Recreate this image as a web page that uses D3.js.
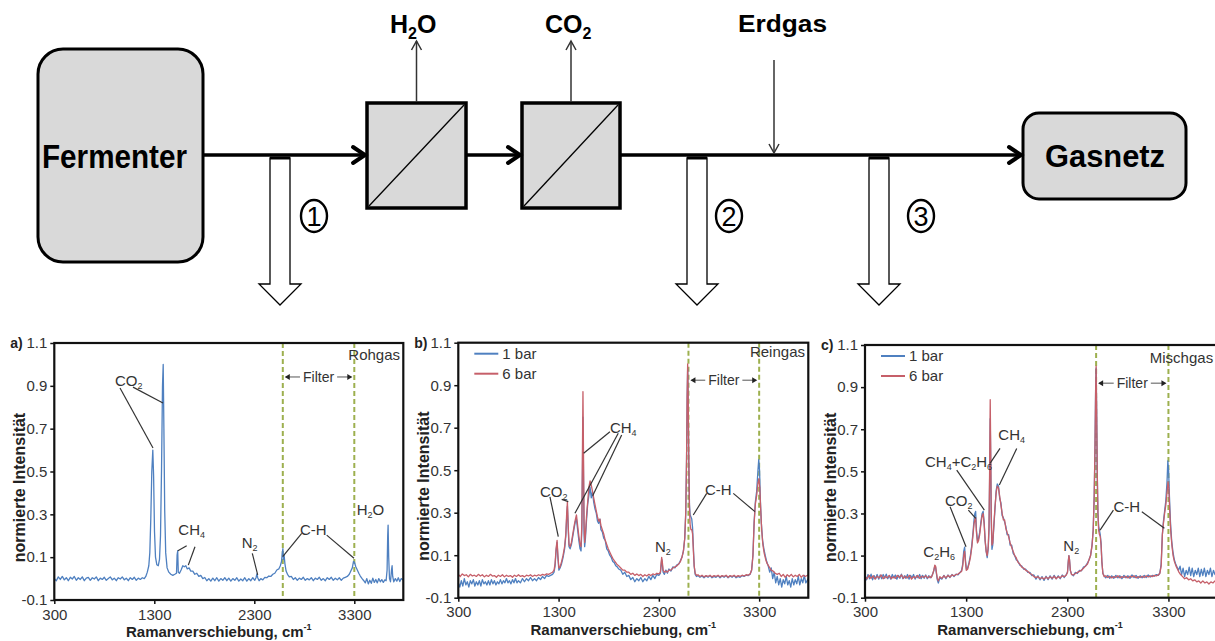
<!DOCTYPE html>
<html>
<head>
<meta charset="utf-8">
<script src="https://cdn.jsdelivr.net/npm/d3@7"></script>
<style>
  body { margin: 0; background: #fff; }
  svg { display: block; font-family: "Liberation Sans", Arial, sans-serif; }
</style>
</head>
<body>
<svg id="chart" width="1215" height="641"></svg>
<script>
// ---- data ----
const xDomain = [300, 3790];
const yDomain = [-0.1, 1.1];
const xTicks = [300, 1300, 2300, 3300];
const yTicks = [-0.1, 0.1, 0.3, 0.5, 0.7, 0.9, 1.1];
const seriesNames = ["1 bar", "6 bar"];
const panelLetters = ["a)", "b)", "c)"];

// [wavenumber cm-1, normalised intensity]
const rohgas = [[300,0.00],[320,-0.01],[340,0.008],[360,-0.004],[380,0.01],[400,-0.006],[420,0.004],[440,-0.01],[460,0.006],[480,-0.002],[500,0.01],[520,-0.008],[540,0.004],[560,-0.004],[580,0.008],[600,-0.01],[620,0.002],[640,0.006],[660,-0.008],[680,0.004],[700,-0.002],[720,0.008],[740,-0.01],[760,0.002],[780,-0.004],[800,0.006],[820,-0.008],[840,0.0],[860,0.008],[880,-0.006],[900,0.002],[920,-0.01],[940,0.004],[960,-0.002],[980,0.008],[1000,-0.006],[1020,0.002],[1040,-0.01],[1060,0.004],[1080,-0.004],[1100,0.006],[1120,-0.008],[1140,0.002],[1160,-0.004],[1180,0.004],[1200,0.0],[1215,0.01],[1230,0.03],[1245,0.06],[1255,0.12],[1265,0.28],[1275,0.5],[1285,0.6],[1293,0.48],[1302,0.22],[1312,0.1],[1325,0.065],[1340,0.06],[1352,0.09],[1362,0.2],[1372,0.5],[1382,0.9],[1389,1.0],[1396,0.7],[1404,0.32],[1414,0.12],[1428,0.05],[1445,0.03],[1465,0.02],[1485,0.015],[1505,0.02],[1522,0.025],[1528,0.11],[1534,0.13],[1540,0.03],[1552,0.025],[1568,0.04],[1585,0.06],[1600,0.055],[1615,0.06],[1630,0.045],[1648,0.05],[1665,0.035],[1685,0.035],[1705,0.02],[1725,0.025],[1745,0.01],[1765,0.015],[1785,0.0],[1805,0.005],[1825,-0.01],[1845,0.0],[1865,-0.012],[1885,0.002],[1905,-0.01],[1925,0.004],[1945,-0.012],[1965,0.0],[1985,-0.008],[2005,0.004],[2025,-0.01],[2045,0.002],[2065,-0.012],[2085,0.0],[2105,-0.008],[2125,0.004],[2145,-0.012],[2165,-0.002],[2185,-0.01],[2205,0.004],[2225,-0.012],[2245,0.0],[2265,-0.01],[2285,0.004],[2305,-0.008],[2318,0.005],[2326,0.022],[2334,0.004],[2348,-0.01],[2365,0.0],[2385,-0.006],[2405,0.006],[2425,0.004],[2445,0.012],[2465,0.01],[2485,0.02],[2505,0.025],[2525,0.04],[2545,0.045],[2560,0.06],[2572,0.08],[2580,0.12],[2586,0.14],[2592,0.09],[2598,0.11],[2606,0.07],[2618,0.035],[2632,0.02],[2650,0.008],[2670,0.01],[2690,-0.004],[2710,0.004],[2730,-0.008],[2750,0.002],[2770,-0.004],[2790,0.006],[2810,-0.008],[2830,0.0],[2850,-0.006],[2870,0.004],[2890,-0.01],[2910,0.002],[2930,-0.004],[2950,0.006],[2970,-0.008],[2990,0.0],[3010,-0.01],[3030,0.004],[3050,-0.004],[3070,0.006],[3090,-0.008],[3110,0.002],[3130,-0.006],[3150,0.004],[3170,-0.008],[3190,0.002],[3210,0.006],[3230,0.01],[3250,0.02],[3265,0.035],[3280,0.05],[3292,0.08],[3302,0.075],[3315,0.055],[3330,0.04],[3345,0.025],[3360,0.012],[3378,0.0],[3395,-0.01],[3410,-0.02],[3425,0.0],[3440,-0.025],[3455,-0.008],[3470,-0.022],[3485,0.002],[3500,-0.018],[3515,-0.004],[3530,-0.02],[3545,0.0],[3560,-0.015],[3575,-0.005],[3590,-0.018],[3605,-0.006],[3618,-0.01],[3628,0.04],[3634,0.2],[3638,0.25],[3644,0.1],[3652,0.0],[3662,-0.015],[3672,0.04],[3678,0.06],[3684,0.01],[3695,-0.015],[3710,0.0],[3725,-0.012],[3740,0.004],[3755,-0.014],[3770,0.0],[3790,-0.008]];

const reingas1bar = [[300,-0.03],[315,-0.05],[330,-0.02],[345,-0.045],[360,-0.01],[375,-0.04],[390,-0.025],[405,-0.05],[420,-0.02],[435,-0.035],[450,-0.015],[465,-0.045],[480,-0.025],[495,-0.04],[510,-0.02],[525,-0.045],[540,-0.015],[555,-0.035],[570,-0.025],[585,-0.04],[600,-0.02],[615,-0.04],[630,-0.015],[645,-0.035],[660,-0.02],[675,-0.04],[690,-0.025],[705,-0.035],[720,-0.015],[735,-0.035],[750,-0.02],[765,-0.03],[780,-0.01],[795,-0.03],[810,-0.02],[825,-0.035],[840,-0.015],[855,-0.03],[870,-0.01],[885,-0.03],[900,-0.02],[920,-0.03],[940,-0.01],[960,-0.025],[980,-0.01],[1000,-0.02],[1020,-0.005],[1040,-0.02],[1060,-0.01],[1080,-0.02],[1100,-0.005],[1120,-0.015],[1140,0.0],[1160,-0.01],[1180,0.005],[1200,0.0],[1220,0.005],[1240,0.01],[1255,0.02],[1265,0.05],[1275,0.12],[1285,0.16],[1293,0.09],[1303,0.03],[1315,0.04],[1330,0.06],[1345,0.09],[1360,0.13],[1372,0.19],[1381,0.28],[1388,0.33],[1395,0.24],[1404,0.14],[1415,0.13],[1428,0.15],[1442,0.19],[1456,0.23],[1468,0.26],[1478,0.27],[1490,0.22],[1502,0.17],[1514,0.13],[1524,0.12],[1532,0.22],[1538,0.5],[1543,0.75],[1548,0.5],[1554,0.2],[1560,0.14],[1568,0.18],[1578,0.26],[1590,0.34],[1602,0.38],[1614,0.42],[1626,0.37],[1638,0.4],[1650,0.35],[1662,0.32],[1675,0.3],[1688,0.26],[1700,0.25],[1712,0.27],[1722,0.22],[1736,0.21],[1750,0.18],[1765,0.17],[1780,0.13],[1795,0.12],[1810,0.1],[1825,0.09],[1840,0.07],[1855,0.065],[1870,0.05],[1885,0.045],[1900,0.035],[1920,0.03],[1940,0.01],[1960,0.02],[1980,0.0],[2000,0.005],[2020,-0.015],[2040,-0.005],[2060,-0.025],[2080,-0.01],[2100,-0.02],[2120,-0.005],[2140,-0.025],[2160,-0.01],[2180,-0.02],[2200,0.0],[2220,-0.015],[2240,0.005],[2260,-0.01],[2280,0.01],[2300,0.005],[2315,0.015],[2322,0.05],[2328,0.08],[2334,0.06],[2342,0.02],[2355,0.01],[2370,0.03],[2385,0.015],[2400,0.035],[2420,0.025],[2440,0.045],[2460,0.04],[2480,0.055],[2500,0.06],[2515,0.075],[2530,0.09],[2545,0.12],[2558,0.18],[2568,0.3],[2576,0.55],[2582,0.85],[2587,0.98],[2592,0.85],[2598,0.55],[2605,0.34],[2612,0.29],[2620,0.28],[2628,0.27],[2636,0.23],[2644,0.14],[2652,0.05],[2662,0.01],[2675,0.0],[2690,0.004],[2710,-0.004],[2730,0.002],[2750,-0.006],[2770,0.002],[2790,-0.004],[2810,0.004],[2830,-0.006],[2850,0.0],[2870,-0.004],[2890,0.004],[2910,-0.006],[2930,0.002],[2950,-0.004],[2970,0.004],[2990,-0.006],[3010,0.002],[3030,-0.004],[3050,0.004],[3070,-0.006],[3090,0.0],[3110,-0.004],[3130,0.004],[3150,0.0],[3170,0.006],[3190,0.004],[3210,0.01],[3225,0.03],[3238,0.1],[3250,0.26],[3262,0.35],[3275,0.4],[3288,0.5],[3296,0.55],[3304,0.5],[3312,0.36],[3322,0.25],[3334,0.17],[3347,0.13],[3360,0.1],[3375,0.07],[3390,0.05],[3405,0.02],[3420,0.04],[3435,-0.01],[3450,0.02],[3465,-0.03],[3480,0.0],[3495,-0.04],[3510,-0.01],[3525,-0.05],[3540,-0.015],[3555,-0.035],[3570,0.0],[3585,-0.04],[3600,-0.02],[3615,-0.05],[3630,-0.01],[3645,-0.04],[3660,-0.015],[3675,-0.035],[3690,0.0],[3705,-0.04],[3720,-0.01],[3735,-0.03],[3750,0.005],[3765,-0.03],[3790,-0.01]];

const reingas6bar = [[300,0.01],[320,0.0],[340,0.012],[360,0.004],[380,0.008],[400,-0.002],[420,0.01],[440,0.002],[460,0.006],[480,0.0],[500,0.01],[520,0.002],[540,0.008],[560,-0.002],[580,0.006],[600,0.0],[620,0.01],[640,0.002],[660,0.004],[680,-0.004],[700,0.006],[720,0.0],[740,0.008],[760,-0.002],[780,0.006],[800,0.0],[820,0.004],[840,-0.004],[860,0.006],[880,0.0],[900,0.008],[920,0.0],[940,0.004],[960,-0.002],[980,0.006],[1000,0.002],[1020,0.008],[1040,0.0],[1060,0.006],[1080,0.002],[1100,0.008],[1120,0.004],[1140,0.01],[1160,0.006],[1180,0.012],[1200,0.01],[1220,0.015],[1240,0.02],[1255,0.03],[1265,0.06],[1275,0.13],[1285,0.17],[1293,0.1],[1303,0.04],[1315,0.045],[1330,0.07],[1345,0.1],[1360,0.14],[1372,0.2],[1381,0.3],[1388,0.35],[1395,0.25],[1404,0.15],[1415,0.14],[1428,0.16],[1442,0.2],[1456,0.24],[1468,0.27],[1478,0.29],[1490,0.24],[1502,0.19],[1514,0.15],[1524,0.14],[1532,0.25],[1538,0.6],[1543,0.87],[1548,0.6],[1554,0.25],[1560,0.16],[1568,0.2],[1578,0.28],[1590,0.35],[1602,0.42],[1614,0.45],[1626,0.43],[1638,0.4],[1650,0.37],[1662,0.34],[1675,0.31],[1688,0.28],[1700,0.26],[1712,0.27],[1722,0.24],[1736,0.22],[1750,0.2],[1765,0.17],[1780,0.15],[1795,0.13],[1810,0.115],[1825,0.1],[1840,0.085],[1855,0.075],[1870,0.065],[1885,0.055],[1900,0.05],[1920,0.04],[1940,0.03],[1960,0.03],[1980,0.02],[2000,0.02],[2020,0.01],[2040,0.015],[2060,0.005],[2080,0.012],[2100,0.004],[2120,0.01],[2140,0.0],[2160,0.008],[2180,0.002],[2200,0.01],[2220,0.004],[2240,0.012],[2260,0.008],[2280,0.015],[2300,0.012],[2315,0.02],[2322,0.06],[2328,0.09],[2334,0.07],[2342,0.03],[2355,0.02],[2370,0.025],[2385,0.02],[2400,0.03],[2420,0.03],[2440,0.04],[2460,0.045],[2480,0.05],[2500,0.06],[2515,0.07],[2530,0.09],[2545,0.12],[2558,0.18],[2568,0.3],[2576,0.55],[2582,0.85],[2587,1.0],[2592,0.85],[2598,0.55],[2605,0.32],[2612,0.24],[2620,0.22],[2628,0.22],[2636,0.2],[2644,0.12],[2652,0.05],[2662,0.015],[2675,0.005],[2690,0.008],[2710,0.0],[2730,0.006],[2750,-0.002],[2770,0.004],[2790,0.0],[2810,0.006],[2830,-0.002],[2850,0.004],[2870,0.0],[2890,0.006],[2910,-0.002],[2930,0.004],[2950,0.0],[2970,0.006],[2990,-0.004],[3010,0.004],[3030,0.0],[3050,0.006],[3070,-0.002],[3090,0.004],[3110,0.0],[3130,0.006],[3150,0.002],[3170,0.008],[3190,0.006],[3210,0.012],[3225,0.03],[3238,0.1],[3250,0.25],[3262,0.34],[3275,0.38],[3288,0.44],[3298,0.46],[3306,0.42],[3315,0.32],[3325,0.22],[3337,0.15],[3350,0.11],[3365,0.08],[3380,0.06],[3400,0.045],[3420,0.03],[3440,0.025],[3460,0.015],[3480,0.01],[3500,0.015],[3520,0.0],[3540,0.01],[3560,-0.004],[3580,0.008],[3600,0.0],[3620,0.01],[3640,-0.002],[3660,0.006],[3680,0.0],[3700,0.01],[3720,-0.004],[3740,0.006],[3760,0.0],[3790,0.008]];

const mischgas1bar = [[300,0.005],[315,-0.015],[330,0.01],[345,-0.01],[360,0.012],[375,-0.015],[390,0.005],[405,-0.01],[420,0.01],[435,-0.012],[450,0.008],[465,-0.01],[480,0.01],[495,-0.008],[510,0.012],[525,-0.01],[540,0.004],[555,-0.012],[570,0.01],[585,-0.006],[600,0.008],[615,-0.012],[630,0.006],[645,-0.008],[660,0.012],[675,-0.01],[690,0.004],[705,-0.008],[720,0.01],[735,-0.012],[750,0.006],[765,-0.006],[780,0.01],[795,-0.012],[810,0.004],[825,-0.006],[840,0.01],[855,-0.01],[870,0.006],[885,-0.008],[900,0.008],[915,-0.01],[930,0.004],[945,-0.006],[958,0.0],[968,0.012],[980,0.028],[990,0.05],[998,0.045],[1006,0.015],[1015,-0.015],[1025,-0.03],[1040,-0.005],[1060,-0.012],[1080,0.006],[1100,-0.01],[1120,0.008],[1140,-0.004],[1160,0.01],[1180,0.0],[1200,0.012],[1220,0.008],[1240,0.02],[1255,0.03],[1266,0.06],[1276,0.12],[1285,0.14],[1293,0.08],[1302,0.035],[1314,0.04],[1328,0.065],[1342,0.1],[1356,0.15],[1368,0.21],[1378,0.27],[1386,0.3],[1394,0.31],[1402,0.22],[1412,0.17],[1422,0.18],[1434,0.21],[1446,0.26],[1458,0.3],[1468,0.31],[1478,0.26],[1488,0.17],[1498,0.12],[1508,0.09],[1518,0.13],[1526,0.22],[1532,0.45],[1538,0.75],[1543,0.55],[1548,0.28],[1555,0.13],[1563,0.15],[1573,0.23],[1585,0.32],[1597,0.41],[1608,0.44],[1620,0.43],[1632,0.37],[1644,0.35],[1656,0.29],[1668,0.28],[1680,0.26],[1692,0.24],[1705,0.2],[1720,0.2],[1735,0.15],[1750,0.15],[1765,0.11],[1780,0.1],[1795,0.08],[1810,0.075],[1830,0.055],[1850,0.05],[1870,0.035],[1890,0.035],[1910,0.02],[1930,0.02],[1950,0.005],[1970,0.008],[1990,-0.012],[2010,0.004],[2030,-0.015],[2050,0.0],[2070,-0.018],[2090,0.002],[2110,-0.014],[2130,0.004],[2150,-0.012],[2170,0.006],[2190,-0.01],[2210,0.004],[2230,-0.01],[2250,0.008],[2270,-0.004],[2290,0.01],[2302,0.022],[2310,0.075],[2316,0.1],[2322,0.08],[2330,0.03],[2342,0.012],[2360,0.004],[2380,0.02],[2400,0.015],[2420,0.03],[2440,0.028],[2460,0.045],[2480,0.05],[2500,0.065],[2515,0.08],[2530,0.1],[2545,0.15],[2556,0.22],[2566,0.38],[2574,0.62],[2580,0.88],[2585,0.99],[2590,0.8],[2596,0.5],[2603,0.3],[2610,0.24],[2618,0.22],[2626,0.2],[2634,0.16],[2642,0.07],[2652,0.015],[2665,0.004],[2680,-0.006],[2700,0.006],[2720,-0.008],[2740,0.004],[2760,-0.008],[2780,0.006],[2800,-0.006],[2820,0.004],[2840,-0.01],[2860,0.006],[2880,-0.006],[2900,0.004],[2920,-0.008],[2940,0.008],[2960,-0.004],[2980,0.006],[3000,-0.008],[3020,0.004],[3040,-0.006],[3060,0.006],[3080,-0.004],[3100,0.008],[3120,-0.002],[3140,0.006],[3160,0.002],[3180,0.01],[3200,0.006],[3215,0.018],[3228,0.06],[3240,0.2],[3250,0.26],[3262,0.31],[3274,0.36],[3286,0.45],[3294,0.55],[3302,0.5],[3310,0.38],[3320,0.26],[3332,0.17],[3344,0.12],[3358,0.08],[3372,0.06],[3386,0.045],[3400,0.03],[3415,0.05],[3430,0.01],[3445,0.04],[3460,0.0],[3475,0.03],[3490,0.01],[3505,0.045],[3520,0.005],[3535,0.04],[3550,0.0],[3565,0.03],[3580,0.01],[3595,0.04],[3610,0.0],[3625,0.035],[3640,0.005],[3655,0.04],[3670,0.0],[3685,0.03],[3700,0.01],[3715,0.04],[3730,0.0],[3745,0.03],[3760,0.01],[3790,0.025]];

const mischgas6bar = [[300,0.0],[320,-0.01],[340,0.006],[360,-0.008],[380,0.004],[400,-0.012],[420,0.002],[440,-0.006],[460,0.008],[480,-0.01],[500,0.002],[520,-0.006],[540,0.006],[560,-0.01],[580,0.0],[600,-0.008],[620,0.006],[640,-0.004],[660,0.008],[680,-0.008],[700,0.002],[720,-0.006],[740,0.006],[760,-0.012],[780,0.0],[800,-0.006],[820,0.006],[840,-0.008],[860,0.002],[880,-0.004],[900,0.004],[920,-0.006],[940,0.002],[955,-0.004],[968,0.01],[980,0.03],[990,0.055],[998,0.05],[1006,0.02],[1015,-0.01],[1025,-0.02],[1040,0.0],[1060,-0.008],[1080,0.004],[1100,-0.006],[1120,0.006],[1140,-0.002],[1160,0.008],[1180,0.004],[1200,0.01],[1220,0.012],[1240,0.02],[1255,0.025],[1266,0.05],[1276,0.1],[1285,0.12],[1293,0.07],[1302,0.03],[1314,0.035],[1328,0.06],[1342,0.09],[1356,0.14],[1368,0.2],[1378,0.25],[1386,0.27],[1394,0.28],[1402,0.21],[1412,0.16],[1422,0.17],[1434,0.2],[1446,0.25],[1458,0.29],[1468,0.3],[1478,0.25],[1488,0.17],[1498,0.12],[1508,0.1],[1518,0.14],[1526,0.24],[1532,0.5],[1538,0.84],[1543,0.6],[1548,0.3],[1555,0.15],[1563,0.16],[1573,0.24],[1585,0.33],[1597,0.4],[1608,0.43],[1620,0.42],[1632,0.38],[1644,0.34],[1656,0.3],[1668,0.27],[1680,0.27],[1692,0.23],[1705,0.21],[1720,0.19],[1735,0.16],[1750,0.14],[1765,0.12],[1780,0.1],[1795,0.09],[1810,0.07],[1830,0.06],[1850,0.045],[1870,0.04],[1890,0.03],[1910,0.025],[1930,0.015],[1950,0.01],[1970,0.0],[1990,-0.005],[2010,0.0],[2030,-0.01],[2050,-0.004],[2070,-0.012],[2090,-0.002],[2110,-0.01],[2130,0.0],[2150,-0.008],[2170,0.002],[2190,-0.01],[2210,0.0],[2230,-0.006],[2250,0.004],[2270,0.0],[2290,0.008],[2302,0.02],[2310,0.07],[2316,0.1],[2322,0.08],[2330,0.03],[2342,0.01],[2360,0.008],[2380,0.015],[2400,0.02],[2420,0.025],[2440,0.03],[2460,0.04],[2480,0.05],[2500,0.06],[2515,0.08],[2530,0.1],[2545,0.15],[2556,0.22],[2566,0.38],[2574,0.62],[2580,0.88],[2585,1.0],[2590,0.8],[2596,0.5],[2603,0.3],[2610,0.22],[2618,0.2],[2626,0.19],[2634,0.15],[2642,0.07],[2652,0.015],[2665,0.0],[2680,0.004],[2700,-0.004],[2720,0.002],[2740,-0.006],[2760,0.0],[2780,-0.004],[2800,0.004],[2820,-0.006],[2840,0.0],[2860,-0.004],[2880,0.002],[2900,-0.006],[2920,0.002],[2940,-0.002],[2960,0.004],[2980,-0.006],[3000,0.0],[3020,-0.004],[3040,0.002],[3060,-0.004],[3080,0.004],[3100,-0.002],[3120,0.004],[3140,0.0],[3160,0.006],[3180,0.004],[3200,0.008],[3215,0.015],[3228,0.05],[3240,0.2],[3250,0.25],[3262,0.3],[3274,0.34],[3286,0.4],[3296,0.45],[3304,0.42],[3312,0.32],[3322,0.22],[3334,0.15],[3346,0.1],[3360,0.07],[3375,0.05],[3390,0.035],[3405,0.02],[3420,0.01],[3440,0.0],[3460,-0.01],[3480,-0.005],[3500,-0.015],[3520,-0.01],[3540,-0.02],[3560,-0.015],[3580,-0.025],[3600,-0.02],[3620,-0.03],[3640,-0.02],[3660,-0.03],[3680,-0.025],[3700,-0.035],[3720,-0.025],[3740,-0.03],[3760,-0.02],[3790,-0.03]];

// filter window (cm-1) per panel
const filterA = [2585, 3300];
const filterB = [2595, 3300];
const filterC = [2585, 3300];

// peak labels: text, text position and leader lines in data units
const notesA = [
  {t: "CO2", at: [907, 0.90], lines: [[957, 0.89, 1287, 0.61], [1087, 0.894, 1387, 0.82]]},
  {t: "CH4", at: [1540, 0.203], lines: [[1624, 0.153, 1536, 0.13], [1707, 0.149, 1640, 0.063]]},
  {t: "N2", at: [2174, 0.141], lines: [[2280, 0.118, 2334, 0.017]]},
  {t: "C-H", at: [2757, 0.203], lines: [[2774, 0.211, 2584, 0.102], [3024, 0.203, 3297, 0.095]]},
  {t: "H2O", at: [3324, 0.297], lines: []},
  {t: "Rohgas", at: [3757, 1.02], anchor: "end", lines: []}
];
const notesB = [
  {t: "CO2", at: [1115, 0.375], lines: [[1214, 0.375, 1297, 0.187], [1331, 0.363, 1397, 0.352]]},
  {t: "CH4", at: [1812, 0.674], lines: [[1812, 0.681, 1550, 0.58], [1895, 0.674, 1463, 0.297], [1929, 0.666, 1640, 0.38]]},
  {t: "N2", at: [2261, 0.116], lines: []},
  {t: "C-H", at: [2759, 0.383], lines: [[2777, 0.391, 2643, 0.289], [3042, 0.391, 3258, 0.305]]},
  {t: "Reingas", at: [3757, 1.033], anchor: "end", lines: []}
];
const notesC = [
  {t: "C2H6", at: [877, 0.095], lines: []},
  {t: "CO2", at: [1091, 0.335], lines: [[1141, 0.332, 1299, 0.142], [1322, 0.316, 1395, 0.277]]},
  {t: "CH4+C2H6", at: [893, 0.522], lines: [[1207, 0.506, 1480, 0.316]]},
  {t: "CH4", at: [1618, 0.649], lines: [[1635, 0.609, 1536, 0.538], [1800, 0.609, 1628, 0.435]]},
  {t: "N2", at: [2261, 0.123], lines: []},
  {t: "C-H", at: [2756, 0.308], lines: [[2756, 0.316, 2624, 0.221], [3037, 0.308, 3260, 0.23]]},
  {t: "Mischgas", at: [3742, 1.016], anchor: "end", lines: []}
];
const filterTextY = [0.918, 0.9, 0.895];

// ---- colours ----
const blue = "#4f80c0";
const red = "#c65f69";
const ink = "#333";

const svg = d3.select("#chart");

// writes "CO2" style text with digits as subscripts
function chem(sel, str, subSize, shift) {
  let down = false;
  str.split(/(\d)/).filter(s => s.length).forEach(part => {
    if (/\d/.test(part)) {
      sel.append("tspan").attr("font-size", subSize).attr("dy", down ? 0 : shift).text(part);
      down = true;
    } else {
      sel.append("tspan").attr("dy", down ? -shift : 0).text(part);
      down = false;
    }
  });
  return sel;
}

// ---- process sketch at the top ----
const sketch = svg.append("g");
const lineY = 155;

// vessels
sketch.append("rect").attr("x", 38).attr("y", 49).attr("width", 165).attr("height", 213)
  .attr("rx", 25).attr("fill", "#d9d9d9").attr("stroke", "#000").attr("stroke-width", 3);
sketch.append("text").attr("x", 42).attr("y", 168).attr("font-size", 34).attr("font-weight", "bold")
  .attr("textLength", 145).attr("lengthAdjust", "spacingAndGlyphs").text("Fermenter");

sketch.append("rect").attr("x", 1023).attr("y", 113).attr("width", 163).attr("height", 86)
  .attr("rx", 16).attr("fill", "#d9d9d9").attr("stroke", "#000").attr("stroke-width", 3);
sketch.append("text").attr("x", 1045).attr("y", 167).attr("font-size", 31).attr("font-weight", "bold")
  .attr("textLength", 120).attr("lengthAdjust", "spacingAndGlyphs").text("Gasnetz");

// membrane modules
const modules = [{x0: 367, x1: 466, out: "H2O", tx: 390}, {x0: 522, x1: 620, out: "CO2", tx: 545}];
modules.forEach(m => {
  sketch.append("rect").attr("x", m.x0).attr("y", 103).attr("width", m.x1 - m.x0).attr("height", 105)
    .attr("fill", "#d9d9d9").attr("stroke", "#000").attr("stroke-width", 3.5);
  sketch.append("line").attr("x1", m.x0 + 2).attr("y1", 206).attr("x2", m.x1 - 2).attr("y2", 105)
    .attr("stroke", "#000").attr("stroke-width", 1.3);
  const cx = (m.x0 + m.x1) / 2;
  sketch.append("line").attr("x1", cx).attr("y1", 102).attr("x2", cx).attr("y2", 41)
    .attr("stroke", ink).attr("stroke-width", 1.5);
  sketch.append("path").attr("d", `M${cx - 5},50 L${cx},41 L${cx + 5},50`)
    .attr("fill", "none").attr("stroke", ink).attr("stroke-width", 1.5);
  chem(sketch.append("text").attr("x", m.tx).attr("y", 33).attr("font-size", 25).attr("font-weight", "bold"), m.out, 16, 6);
});

// main gas line with arrow heads
const runs = [[203, 366], [466, 521], [620, 1022]];
runs.forEach(r => {
  sketch.append("line").attr("x1", r[0]).attr("y1", lineY).attr("x2", r[1] - 1).attr("y2", lineY)
    .attr("stroke", "#000").attr("stroke-width", 3.5);
  sketch.append("path").attr("d", `M${r[1] - 13},${lineY - 8} L${r[1] - 1},${lineY} L${r[1] - 13},${lineY + 8}`)
    .attr("fill", "none").attr("stroke", "#000").attr("stroke-width", 4).attr("stroke-linecap", "round");
});

// natural gas feed
sketch.append("text").attr("x", 738).attr("y", 32).attr("font-size", 24).attr("font-weight", "bold")
  .attr("textLength", 89).attr("lengthAdjust", "spacingAndGlyphs").text("Erdgas");
sketch.append("line").attr("x1", 774).attr("y1", 60).attr("x2", 774).attr("y2", 153)
  .attr("stroke", ink).attr("stroke-width", 1.5);
sketch.append("path").attr("d", "M769,144 L774,153 L779,144")
  .attr("fill", "none").attr("stroke", ink).attr("stroke-width", 1.5);

// sampling points
const taps = [{x: 280, n: "1", cx: 314}, {x: 697, n: "2", cx: 729}, {x: 879, n: "3", cx: 921}];
taps.forEach(s => {
  sketch.append("path")
    .attr("d", `M${s.x - 10},158 L${s.x - 10},284 L${s.x - 21},284 L${s.x},305 L${s.x + 21},284 L${s.x + 10},284 L${s.x + 10},158 Z`)
    .attr("fill", "#fff").attr("stroke", "#000").attr("stroke-width", 1.3);
  sketch.append("line").attr("x1", s.x - 10).attr("x2", s.x + 10).attr("y1", 158).attr("y2", 158)
    .attr("stroke", "#000").attr("stroke-width", 3);
  sketch.append("ellipse").attr("cx", s.cx).attr("cy", 216).attr("rx", 13).attr("ry", 16)
    .attr("fill", "none").attr("stroke", "#000").attr("stroke-width", 2.4);
  sketch.append("text").attr("x", s.cx).attr("y", 226).attr("text-anchor", "middle")
    .attr("font-size", 27).text(s.n);
});

// ---- spectra ----
const panels = [
  {left: 54.3, right: 403.3, top: 343, bottom: 600, series: [rohgas], colors: [blue], filter: filterA, notes: notesA, legend: false},
  {left: 458.3, right: 808.3, top: 342.7, bottom: 597.7, series: [reingas1bar, reingas6bar], colors: [blue, red], filter: filterB, notes: notesB, legend: true},
  {left: 865, right: 1218, top: 345, bottom: 597.7, series: [mischgas1bar, mischgas6bar], colors: [blue, red], filter: filterC, notes: notesC, legend: true}
];

panels.forEach((p, i) => {
  const g = svg.append("g");
  const x = d3.scaleLinear().domain(xDomain).range([p.left, p.right]);
  const y = d3.scaleLinear().domain(yDomain).range([p.bottom, p.top]);

  // filter window
  g.selectAll("line.filter").data(p.filter).join("line").attr("class", "filter")
    .attr("x1", d => x(d)).attr("x2", d => x(d)).attr("y1", p.top).attr("y2", p.bottom)
    .attr("stroke", "#9db04f").attr("stroke-width", 2).attr("stroke-dasharray", "5,3");

  const line = d3.line().x(d => x(d[0])).y(d => y(d[1]));
  p.series.forEach((s, k) => {
    g.append("path").datum(s).attr("d", line).attr("fill", "none")
      .attr("stroke", p.colors[k]).attr("stroke-width", 1.3).attr("stroke-linejoin", "round");
  });

  g.append("rect").attr("x", p.left).attr("y", p.top).attr("width", p.right - p.left).attr("height", p.bottom - p.top)
    .attr("fill", "none").attr("stroke", "#111").attr("stroke-width", 2.2);

  const ya = g.append("g").attr("transform", `translate(${p.left},0)`)
    .call(d3.axisLeft(y).tickValues(yTicks).tickSize(4).tickPadding(3).tickFormat(d => d.toFixed(1)));
  const xa = g.append("g").attr("transform", `translate(0,${p.bottom})`)
    .call(d3.axisBottom(x).tickValues(xTicks).tickSize(4).tickPadding(5).tickFormat(d => String(d)));
  [ya, xa].forEach(a => {
    a.select(".domain").remove();
    a.attr("font-size", 15).attr("font-family", null);
    a.selectAll("line").attr("stroke", "#111").attr("stroke-width", 1.5);
    a.selectAll("text").attr("fill", ink);
  });

  g.append("text").attr("x", p.left - 44).attr("y", p.top + 5).attr("font-size", 14)
    .attr("font-weight", "bold").attr("fill", "#222").text(panelLetters[i]);

  const midY = (p.top + p.bottom) / 2 + 16;
  g.append("text").attr("transform", `translate(${p.left - 29},${midY}) rotate(-90)`)
    .attr("text-anchor", "middle").attr("font-size", 16).attr("font-weight", "bold").attr("fill", "#222")
    .text("normierte Intensität");

  const xt = g.append("text").attr("x", (p.left + Math.min(p.right, 1215)) / 2 - 10).attr("y", p.bottom + 37)
    .attr("text-anchor", "middle").attr("font-size", 15).attr("font-weight", "bold").attr("fill", "#222");
  xt.append("tspan").text("Ramanverschiebung, cm");
  xt.append("tspan").attr("font-size", 9).attr("dy", -7).text("-1");

  // filter label with arrows to both dashed lines
  const fx0 = x(p.filter[0]), fx1 = x(p.filter[1]), fm = (fx0 + fx1) / 2, fy = y(filterTextY[i]);
  const ft = g.append("text").attr("x", fm).attr("y", fy).attr("text-anchor", "middle")
    .attr("font-size", 14).attr("fill", ink).text("Filter");
  const half = ft.node().getComputedTextLength() / 2 + 3;
  const ay = fy - 5;
  g.append("line").attr("x1", fx0 + 3).attr("x2", fm - half).attr("y1", ay).attr("y2", ay).attr("stroke", "#555").attr("stroke-width", 1);
  g.append("line").attr("x1", fm + half).attr("x2", fx1 - 3).attr("y1", ay).attr("y2", ay).attr("stroke", "#555").attr("stroke-width", 1);
  g.append("path").attr("d", `M${fx0 + 2},${ay} L${fx0 + 7},${ay - 3} L${fx0 + 7},${ay + 3} Z`).attr("fill", "#222");
  g.append("path").attr("d", `M${fx1 - 2},${ay} L${fx1 - 7},${ay - 3} L${fx1 - 7},${ay + 3} Z`).attr("fill", "#222");

  // peak labels
  p.notes.forEach(n => {
    n.lines.forEach(l => {
      g.append("line").attr("x1", x(l[0])).attr("y1", y(l[1])).attr("x2", x(l[2])).attr("y2", y(l[3]))
        .attr("stroke", ink).attr("stroke-width", 1.2);
    });
    const t = g.append("text").attr("x", x(n.at[0])).attr("y", y(n.at[1]))
      .attr("text-anchor", n.anchor || "start").attr("font-size", 15).attr("fill", ink);
    chem(t, n.t, 9, 3);
  });

  if (p.legend) {
    seriesNames.forEach((name, k) => {
      const ly = p.top + 11 + k * 20;
      g.append("line").attr("x1", p.left + 16).attr("x2", p.left + 40).attr("y1", ly).attr("y2", ly)
        .attr("stroke", p.colors[k]).attr("stroke-width", 2);
      g.append("text").attr("x", p.left + 44).attr("y", ly + 5).attr("font-size", 15).attr("fill", ink).text(name);
    });
  }
});
</script>
</body>
</html>
